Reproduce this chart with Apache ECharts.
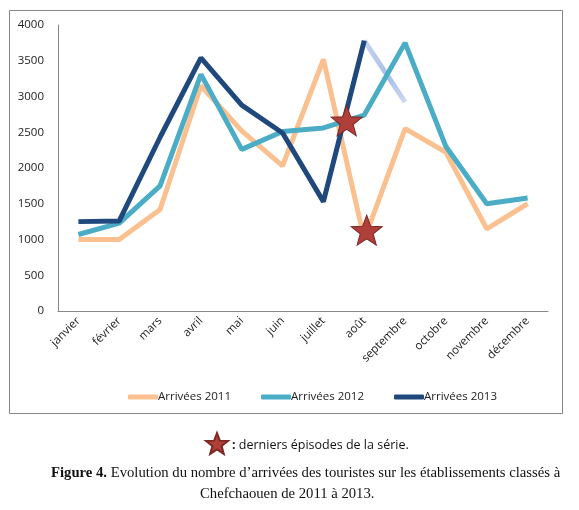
<!DOCTYPE html>
<html>
<head>
<meta charset="utf-8">
<script src="https://cdn.jsdelivr.net/npm/echarts@6/dist/echarts.min.js"></script>
<style>
  html, body { margin: 0; padding: 0; background: #fff; }
  #main { width: 579px; height: 510px; }
</style>
</head>
<body>
<div id="main"></div>
<script>
// données
var mois = ['janvier', 'février', 'mars', 'avril', 'mai', 'juin', 'juillet', 'août', 'septembre', 'octobre', 'novembre', 'décembre'];
var arrivees2011 = [1000, 1000, 1420, 3150, 2520, 2030, 3520, 1000, 2550, 2220, 1150, 1500];
var arrivees2012 = [1070, 1230, 1750, 3310, 2260, 2510, 2560, 2740, 3750, 2300, 1500, 1580];
var arrivees2013 = [1250, 1260, 2430, 3540, 2880, 2490, 1530, 3780, null, null, null, null];
// prolongement estompé de 2013 (août -> septembre)
var prolongement2013 = [null, null, null, null, null, null, null, 3780, 2920, null, null, null];
// étoiles : [position sur l'axe des mois, valeur]
var etoiles = [[6.57, 2660], [7.06, 1130]];
var yTicks = { min: 0, max: 4000, interval: 500 };

var font = 'Open Sans';

// étoile à 5 branches pour le symbole
function starPath() {
  var pts = [];
  for (var i = 0; i < 10; i++) {
    var r = i % 2 === 0 ? 1 : 0.42;
    var a = -Math.PI / 2 + i * Math.PI / 5;
    pts.push((r * Math.cos(a)).toFixed(3) + ',' + (r * Math.sin(a)).toFixed(3));
  }
  return 'path://M' + pts.join('L') + 'Z';
}
var star = starPath();

var chart = echarts.init(document.getElementById('main'));

var lineSeries = function (name, data, color) {
  return {
    name: name,
    type: 'line',
    data: data,
    symbol: 'none',
    lineStyle: { color: color, width: 5 },
    itemStyle: { color: color },
    connectNulls: false
  };
};

var option = {
  backgroundColor: '#fff',
  animation: false,
  grid: { left: 58, right: 31, top: 25, bottom: 199 },
  legend: [{
    data: ['Arrivées 2011', 'Arrivées 2012', 'Arrivées 2013'],
    top: 386,
    left: 123,
    itemGap: 30,
    itemWidth: 30,
    itemHeight: 5,
    icon: 'roundRect',
    textStyle: { fontFamily: font, fontSize: 11.5, color: '#222', padding: [0, 0, 0, -5] }
  }, {
    data: ['etoile'],
    top: 427,
    left: 200,
    itemWidth: 22,
    itemHeight: 21,
    itemGap: 0,
    selectedMode: false,
    formatter: function () { return '{c|:} derniers épisodes de la série.'; },
    textStyle: {
      fontFamily: font, fontSize: 12.5, color: '#111', padding: [4, 0, 0, -1],
      rich: { c: { fontWeight: 'bold', fontFamily: font, fontSize: 12.5, color: '#111' } }
    }
  }],
  xAxis: [{
    type: 'category',
    data: mois,
    boundaryGap: true,
    axisLine: { lineStyle: { color: '#868686', width: 1 } },
    axisTick: { show: false },
    axisLabel: { rotate: 45, margin: 8, fontFamily: font, fontSize: 11.5, color: '#222', interval: 0 }
  }, {
    type: 'value',
    min: -0.5,
    max: 11.5,
    show: false
  }],
  yAxis: {
    type: 'value',
    min: yTicks.min,
    max: yTicks.max,
    interval: yTicks.interval,
    axisLine: { show: true, onZero: false, lineStyle: { color: '#868686', width: 1 } },
    axisTick: { show: false },
    splitLine: { show: false },
    axisLabel: {
      margin: 14, fontFamily: font, fontSize: 11.5, color: '#222',
      formatter: function (v) { return String(v); }
    }
  },
  graphic: [{
    type: 'rect',
    shape: { x: 9.5, y: 10.5, width: 553, height: 403 },
    style: { fill: 'none', stroke: '#868686', lineWidth: 1 },
    silent: true
  }, {
    type: 'text',
    left: 51,
    top: 466,
    style: {
      text: '{b|Figure 4.} Evolution du nombre d\u2019arrivées des touristes sur les établissements classés à',
      font: '14.7px "Liberation Serif"',
      fill: '#111',
      rich: { b: { fontWeight: 'bold', fontFamily: 'Liberation Serif', fontSize: 14.7, fill: '#111' } }
    }
  }, {
    type: 'text',
    left: 200,
    top: 487,
    style: { text: 'Chefchaouen de 2011 à 2013.', font: '14.7px "Liberation Serif"', fill: '#111' }
  }],
  series: [
    lineSeries('Arrivées 2011', arrivees2011, '#fac090'),
    lineSeries('Arrivées 2012', arrivees2012, '#4bacc6'),
    lineSeries('Arrivées 2013', arrivees2013, '#1f497d'),
    {
      name: 'prolongement',
      type: 'line',
      data: prolongement2013,
      symbol: 'none',
      lineStyle: {
        width: 5,
        color: new echarts.graphic.LinearGradient(0, 0, 1, 1, [
          { offset: 0, color: '#c9d5ef' },
          { offset: 0.6, color: '#a9bee8' },
          { offset: 1, color: '#d3ddf3' }
        ])
      },
      z: 1
    },
    {
      name: 'etoile',
      type: 'scatter',
      xAxisIndex: 1,
      data: etoiles,
      symbol: star,
      symbolSize: [31, 30],
      itemStyle: { color: '#b03f3a', borderColor: '#7c2824', borderWidth: 1, opacity: 1 },
      z: 5
    }
  ]
};

chart.setOption(option);
</script>
</body>
</html>
